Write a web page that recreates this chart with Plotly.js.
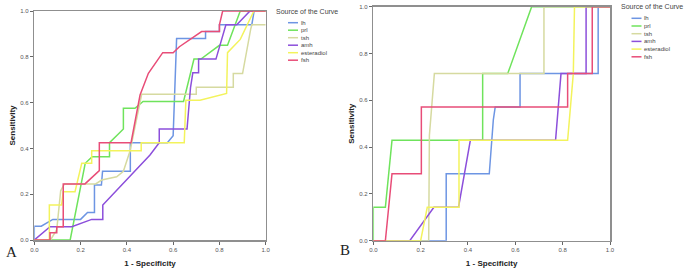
<!DOCTYPE html>
<html>
<head>
<meta charset="utf-8">
<script src="https://cdn.plot.ly/plotly-3.0.1.min.js"></script>
<style>html,body{margin:0;padding:0;background:#fff;}#chart{width:693px;height:271px;}</style>
</head>
<body>
<div id="chart"></div>
<script>
// Series names and colours
const seriesNames = ["lh", "prl", "tsh", "amh", "esteradiol", "fsh"];
const seriesColors = ["#6d95e3", "#6fe35c", "#d6daa0", "#8c4fdb", "#f3f35c", "#e84d78"];
const tickVals = [0, 0.2, 0.4, 0.6, 0.8, 1.0];
const tickText = ["0.0", "0.2", "0.4", "0.6", "0.8", "1.0"];

// Panel A (1 - Specificity, Sensitivity)
const A_lh_x = [0, 0, 0.03, 0.08, 0.2, 0.23, 0.26, 0.26, 0.29, 0.295, 0.415, 0.415, 0.575, 0.60, 0.615, 0.74, 0.74, 0.80, 0.80, 0.94, 0.95, 1.0];
const A_lh_y = [0, 0.06, 0.06, 0.09, 0.09, 0.12, 0.12, 0.24, 0.24, 0.30, 0.30, 0.425, 0.425, 0.455, 0.88, 0.88, 0.91, 0.91, 0.94, 0.94, 1.0, 1.0];
const A_prl_x = [0, 0.155, 0.22, 0.25, 0.325, 0.325, 0.36, 0.385, 0.385, 0.435, 0.47, 0.645, 0.69, 0.72, 0.80, 0.835, 0.89, 1.0];
const A_prl_y = [0, 0, 0.335, 0.364, 0.364, 0.425, 0.46, 0.485, 0.575, 0.575, 0.605, 0.605, 0.79, 0.79, 0.85, 0.85, 1.0, 1.0];
const A_tsh_x = [0, 0.07, 0.097, 0.114, 0.13, 0.265, 0.291, 0.356, 0.385, 0.414, 0.464, 0.70, 0.70, 0.86, 0.86, 0.90, 0.935, 0.94, 1.0];
const A_tsh_y = [0, 0, 0.045, 0.215, 0.245, 0.245, 0.262, 0.276, 0.30, 0.39, 0.636, 0.636, 0.667, 0.667, 0.727, 0.727, 0.92, 0.94, 0.94];
const A_amh_x = [0, 0.068, 0.162, 0.248, 0.296, 0.296, 0.50, 0.54, 0.54, 0.66, 0.675, 0.685, 0.71, 0.71, 0.785, 0.828, 0.875, 0.932, 1.0];
const A_amh_y = [0, 0.058, 0.058, 0.09, 0.09, 0.153, 0.371, 0.425, 0.485, 0.485, 0.665, 0.73, 0.73, 0.79, 0.79, 0.94, 0.94, 1.0, 1.0];
const A_est_x = [0, 0.065, 0.065, 0.118, 0.125, 0.176, 0.205, 0.248, 0.248, 0.462, 0.462, 0.648, 0.655, 0.716, 0.831, 0.835, 0.89, 0.949, 1.0];
const A_est_y = [0, 0, 0.153, 0.153, 0.211, 0.211, 0.335, 0.335, 0.39, 0.39, 0.425, 0.425, 0.61, 0.61, 0.64, 0.818, 0.876, 1.0, 1.0];
const A_fsh_x = [0, 0.068, 0.068, 0.097, 0.097, 0.125, 0.125, 0.219, 0.281, 0.281, 0.418, 0.457, 0.493, 0.555, 0.60, 0.627, 0.723, 0.80, 0.80, 0.814, 1.0];
const A_fsh_y = [0, 0, 0.032, 0.032, 0.058, 0.058, 0.245, 0.245, 0.303, 0.425, 0.425, 0.633, 0.728, 0.818, 0.818, 0.844, 0.91, 0.91, 0.94, 1.0, 1.0];

// Panel B
const B_lh_x = [0, 0.308, 0.308, 0.49, 0.507, 0.515, 0.62, 0.62, 0.95, 0.95, 1.0];
const B_lh_y = [0, 0, 0.286, 0.286, 0.516, 0.571, 0.571, 0.714, 0.714, 1.0, 1.0];
const B_prl_x = [0, 0, 0.051, 0.079, 0.462, 0.462, 0.568, 0.669, 1.0];
const B_prl_y = [0, 0.143, 0.143, 0.429, 0.429, 0.714, 0.714, 1.0, 1.0];
const B_tsh_x = [0, 0.234, 0.237, 0.258, 0.721, 0.721, 1.0];
const B_tsh_y = [0, 0, 0.45, 0.714, 0.714, 1.0, 1.0];
const B_amh_x = [0, 0.154, 0.256, 0.36, 0.41, 0.77, 0.793, 0.899, 0.899, 1.0];
const B_amh_y = [0, 0, 0.143, 0.143, 0.429, 0.429, 0.714, 0.714, 1.0, 1.0];
const B_est_x = [0, 0.2, 0.228, 0.362, 0.362, 0.821, 0.845, 0.85, 1.0];
const B_est_y = [0, 0, 0.143, 0.143, 0.429, 0.429, 0.714, 1.0, 1.0];
const B_fsh_x = [0, 0.051, 0.079, 0.203, 0.203, 0.821, 0.821, 0.925, 0.925, 1.0];
const B_fsh_y = [0, 0, 0.286, 0.286, 0.571, 0.571, 0.714, 0.714, 1.0, 1.0];

const panelA = [[A_lh_x, A_lh_y], [A_prl_x, A_prl_y], [A_tsh_x, A_tsh_y], [A_amh_x, A_amh_y], [A_est_x, A_est_y], [A_fsh_x, A_fsh_y]];
const panelB = [[B_lh_x, B_lh_y], [B_prl_x, B_prl_y], [B_tsh_x, B_tsh_y], [B_amh_x, B_amh_y], [B_est_x, B_est_y], [B_fsh_x, B_fsh_y]];

const traces = [];
panelA.forEach((s, i) => traces.push({x: s[0], y: s[1], type: 'scatter', mode: 'lines', name: seriesNames[i],
  xaxis: 'x', yaxis: 'y', line: {color: seriesColors[i], width: 1.5}, showlegend: false}));
panelB.forEach((s, i) => traces.push({x: s[0], y: s[1], type: 'scatter', mode: 'lines', name: seriesNames[i],
  xaxis: 'x2', yaxis: 'y2', line: {color: seriesColors[i], width: 1.5}, showlegend: false}));

const W = 693, H = 271;
const frame = '#8f8f8f';
function axisCommon(dom) {
  return {domain: dom, range: [0, 1], tickvals: tickVals, ticktext: tickText, showgrid: false, zeroline: false,
    showline: true, linecolor: frame, linewidth: 1.5, mirror: true, ticks: 'outside', ticklen: 3, tickcolor: '#666',
    tickwidth: 1, tickfont: {family: 'Liberation Sans, Arial', size: 6, color: '#555'}, fixedrange: true};
}
const titleFont = {family: 'Liberation Sans, Arial', size: 8, color: '#222', weight: 'bold'};

const xA = axisCommon([34.3 / W, 265.7 / W]);
xA.title = {text: '<b>1 - Specificity</b>', font: titleFont, standoff: 8};
const yA = axisCommon([(H - 240) / H, (H - 11) / H]);
yA.title = {text: '<b>Sensitivity</b>', font: titleFont, standoff: 3};
const xB = axisCommon([373.3 / W, 610 / W]);
xB.title = {text: '<b>1 - Specificity</b>', font: titleFont, standoff: 8};
const yB = axisCommon([(H - 240.7) / H, (H - 6.7) / H]);
yB.title = {text: '<b>Sensitivity</b>', font: titleFont, standoff: 3};

// Legends built as annotations + short line shapes (paper coords)
const annotations = [];
const shapes = [];
function addLegend(titleX, titleY, lineX, textX, rowY0, rowStep) {
  annotations.push({xref: 'paper', yref: 'paper', x: titleX / W, y: 1 - titleY / H, xanchor: 'left', yanchor: 'middle',
    text: 'Source of the Curve', showarrow: false, font: {family: 'Liberation Sans, Arial', size: 7, color: '#444'}});
  seriesNames.forEach((n, i) => {
    const yy = rowY0 + i * rowStep;
    shapes.push({type: 'line', xref: 'paper', yref: 'paper', x0: lineX / W, x1: (lineX + 10) / W, y0: 1 - yy / H, y1: 1 - yy / H,
      line: {color: seriesColors[i], width: 1.5}});
    annotations.push({xref: 'paper', yref: 'paper', x: textX / W, y: 1 - yy / H, xanchor: 'left', yanchor: 'middle',
      text: n, showarrow: false, font: {family: 'Liberation Sans, Arial', size: 6, color: '#444'}});
  });
}
addLegend(274, 11, 288, 299, 22.7, 7.5);
addLegend(619, 6.7, 631.5, 642, 18.3, 7.7);

annotations.push({xref: 'paper', yref: 'paper', x: 4 / W, y: 1 - 252 / H, xanchor: 'left', yanchor: 'middle', text: 'A',
  showarrow: false, font: {family: 'Liberation Serif, Times New Roman', size: 15, color: '#222'}});
annotations.push({xref: 'paper', yref: 'paper', x: 338 / W, y: 1 - 250 / H, xanchor: 'left', yanchor: 'middle', text: 'B',
  showarrow: false, font: {family: 'Liberation Serif, Times New Roman', size: 15, color: '#222'}});

xA.anchor = 'y'; yA.anchor = 'x';
xB.anchor = 'y2'; yB.anchor = 'x2';
const layout = {
  width: W, height: H, margin: {l: 0, r: 0, t: 0, b: 0}, paper_bgcolor: '#fff', plot_bgcolor: '#fff',
  showlegend: false, xaxis: xA, yaxis: yA, xaxis2: xB, yaxis2: yB,
  annotations: annotations, shapes: shapes
};
Plotly.newPlot('chart', traces, layout, {staticPlot: true, displayModeBar: false});
</script>
</body>
</html>
